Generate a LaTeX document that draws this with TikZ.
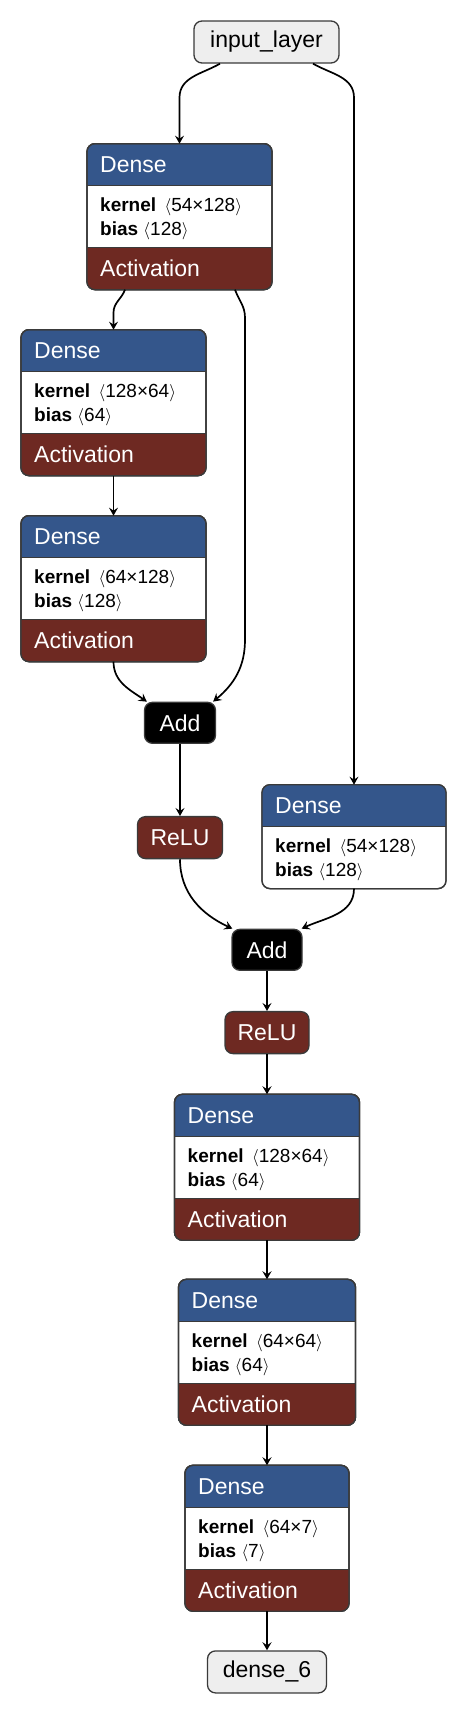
\documentclass[tikz,border=0pt]{standalone}
\usepackage{fontspec}
\setmainfont{Liberation Sans}
\usetikzlibrary{arrows.meta, positioning, calc}

\definecolor{denseblue}{HTML}{34568B}
\definecolor{actred}{HTML}{6E2922}
\definecolor{framegray}{HTML}{3A3A3A}
\definecolor{iogray}{HTML}{EEEEEE}

\tikzset{
  layerframe/.style={rectangle, rounded corners=8pt, draw=framegray, line width=1.3pt, fill=white, inner sep=0pt, outer sep=0pt},
  layeroutline/.style={draw=framegray, line width=1.3pt, rounded corners=8pt},
  sepline/.style={draw=framegray, line width=1.3pt},
  headtext/.style={font=\fontsize{23}{27}\selectfont, text=white, inner sep=0pt},
  bodytext/.style={font=\fontsize{19}{23}\selectfont, text=black, inner sep=0pt},
  iobox/.style={rectangle, rounded corners=8pt, draw=framegray, line width=1.3pt, fill=iogray, minimum height=42pt, inner sep=0pt, font=\fontsize{23}{27}\selectfont},
  addbox/.style={rectangle, rounded corners=8pt, draw=framegray, line width=1.3pt, fill=black, text=white, minimum width=71pt, minimum height=41pt, inner sep=0pt, font=\fontsize{23}{27}\selectfont},
  relubox/.style={rectangle, rounded corners=8pt, draw=framegray, line width=1.3pt, fill=actred, text=white, minimum width=85pt, minimum height=42pt, inner sep=0pt, font=\fontsize{23}{27}\selectfont},
  arrow/.style={-{Stealth[length=8pt, width=9pt, inset=3pt]}, line width=1.7pt, black}
}

\newcommand{\tensordim}[1]{\ensuremath{\langle}#1\ensuremath{\rangle}}

% Dense block: frame, blue header, kernel/bias rows
\newcommand{\denselayer}[5]{%
  \node[layerframe, minimum width=#3, minimum height=146pt, #2] (#1) {};
  \begin{scope}
    \clip[rounded corners=8pt] (#1.north west) rectangle (#1.south east);
    \fill[denseblue] (#1.north west) rectangle ([yshift=-42pt]#1.north east);
  \end{scope}
  \draw[sepline] ([yshift=-42pt]#1.north west) -- ([yshift=-42pt]#1.north east);
  \draw[layeroutline] (#1.north west) rectangle (#1.south east);
  \node[headtext, anchor=west] (#1-t) at ([xshift=13pt, yshift=-21pt]#1.north west) {Dense};
  \node[bodytext, anchor=base west] (#1-k) at ([xshift=13pt, yshift=-68pt]#1.north west) {\textbf{kernel}~\,\tensordim{#4}};
  \node[bodytext, anchor=base west] (#1-b) at ([xshift=13pt, yshift=-92pt]#1.north west) {\textbf{bias}~\tensordim{#5}};
}

% red activation footer under a Dense block
\newcommand{\activationfoot}[1]{%
  \begin{scope}
    \clip[rounded corners=8pt] (#1.north west) rectangle (#1.south east);
    \fill[actred] ([yshift=42pt]#1.south west) rectangle (#1.south east);
  \end{scope}
  \draw[sepline] ([yshift=42pt]#1.south west) -- ([yshift=42pt]#1.south east);
  \draw[layeroutline] (#1.north west) rectangle (#1.south east);
  \node[headtext, anchor=west] (#1-a) at ([xshift=13pt, yshift=21pt]#1.south west) {Activation};
}

\begin{document}
\begin{tikzpicture}
  \useasboundingbox (0,0) rectangle (468pt,-1716pt);

  % === input ===
  \node[iobox, minimum width=145pt] (in) at (266.5pt,-42pt) {input\_layer};

  % === left residual branch ===
  \denselayer{d1}{below=80pt of in, xshift=-87pt}{185pt}{54×128}{128}
  \activationfoot{d1}
  \denselayer{d2}{below=40pt of d1, xshift=-66pt}{185pt}{128×64}{64}
  \activationfoot{d2}
  \denselayer{d3}{below=40pt of d2}{185pt}{64×128}{128}
  \activationfoot{d3}
  \node[addbox, below=40pt of d3, xshift=66.5pt] (add1) {Add};
  \node[relubox, below=72pt of add1] (relu1) {ReLU};

  % === right shortcut ===
  \denselayer{dr}{minimum height=104pt, below=721pt of in, xshift=87.5pt}{184pt}{54×128}{128}

  % === main stack ===
  \node[addbox, minimum width=70pt, below=40pt of dr, xshift=-87pt] (add2) {Add};
  \node[relubox, minimum width=84pt, below=40pt of add2] (relu2) {ReLU};
  \denselayer{d4}{below=40pt of relu2}{185pt}{128×64}{64}
  \activationfoot{d4}
  \denselayer{d5}{below=39pt of d4}{177pt}{64×64}{64}
  \activationfoot{d5}
  \denselayer{d6}{below=40pt of d5}{164pt}{64×7}{7}
  \activationfoot{d6}
  \node[iobox, minimum width=119pt, below=39pt of d6] (out) {dense\_6};

  % ===== ARROWS =====
  \coordinate (split) at ([yshift=-34pt]in.south);
  \draw[arrow] ([xshift=-46.5pt]in.south) to[out=-150, in=90] (d1.north |- split) -- (d1.north);
  \draw[arrow] ([xshift=46.5pt]in.south) to[out=-30, in=90] (dr.north |- split) -- (dr.north);

  \draw[arrow] ([xshift=-54.5pt]d1.south) to[out=-110, in=90] ([yshift=17pt]d2.north) -- (d2.north);
  \draw[arrow] (d2.south) -- (d3.north);

  % skip connection around d2/d3
  \coordinate (skip) at ([xshift=65.5pt, yshift=-28pt]d1.south);
  \draw[arrow] ([xshift=55.5pt]d1.south) to[out=-70, in=90] (skip) -- ($(skip |- d3.south)+(0,22pt)$) to[out=-90, in=40] ([xshift=-3pt]add1.north east);
  \draw[arrow] (d3.south) to[out=-90, in=145] ([xshift=3pt]add1.north west);
  \draw[arrow] (add1) -- (relu1);

  \draw[arrow] (relu1.south) to[out=-90, in=155] ([xshift=1pt]add2.north west);
  \draw[arrow] (dr.south) to[out=-90, in=25] ([xshift=-1pt]add2.north east);

  \draw[arrow] (add2) -- (relu2);
  \draw[arrow] (relu2) -- (d4);
  \draw[arrow] (d4) -- (d5);
  \draw[arrow] (d5) -- (d6);
  \draw[arrow] (d6) -- (out);
\end{tikzpicture}
\end{document}
